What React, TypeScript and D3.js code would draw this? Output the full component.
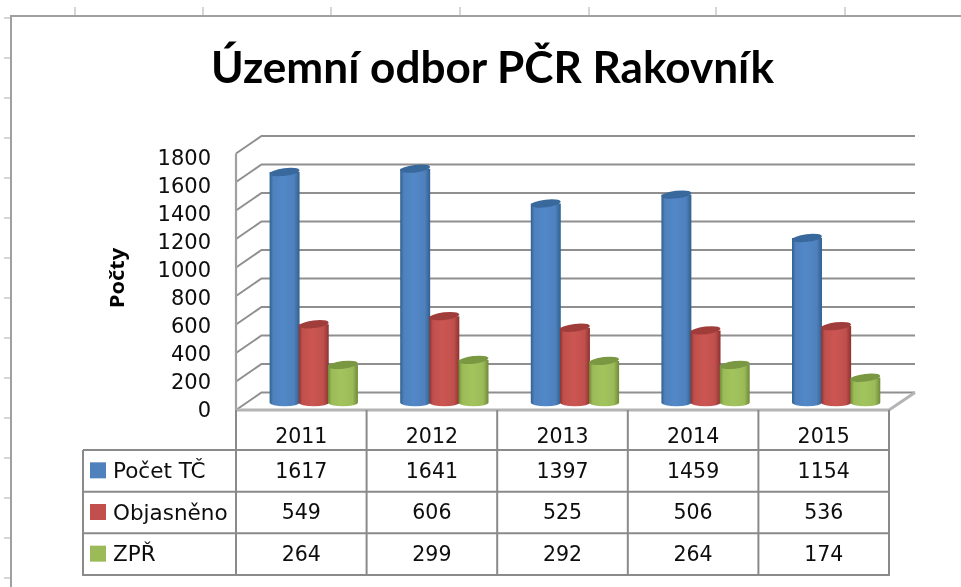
import React from "react";
import * as d3 from "d3";

const years = ["2011", "2012", "2013", "2014", "2015"];
const seriesNames = ["Počet TČ", "Objasněno", "ZPŘ"];
const pocet = [1617, 1641, 1397, 1459, 1154];
const objasneno = [549, 606, 525, 506, 536];
const zpr = [264, 299, 292, 264, 174];
const yTicks = [0, 200, 400, 600, 800, 1000, 1200, 1400, 1600, 1800];
const topMarks = [75, 203, 331, 460, 589, 716, 845];
const leftMarks = [18, 58, 98, 138, 178, 218, 258, 298, 338, 378, 418, 458, 498, 538, 578];
const baseColors = ["#4F81BD", "#C0504D", "#9BBB59"];
const lightColors = ["#5288C8", "#CC5552", "#A2C45C"];
const darkColors = ["#30608F", "#8C3330", "#6F8A38"];
const capColors = ["#37679C", "#A03E3B", "#7A9742"];
const rows = [pocet, objasneno, zpr];

const GRID = "#8f8f8f";
const TABLE = "#8a8a8a";
const FONT = "'DejaVu Sans', sans-serif";
const BOTTOM = 575;

export default function App() {
  const x0 = 236, x1 = 889, dx = 25.5, dy = 17.5;
  const y = d3.scaleLinear().domain([0, 1800]).range([410, 153.5]);
  const yLabel = d3.scaleLinear().domain([0, 1800]).range([409, 157]);
  const xCat = d3.scaleBand<string>().domain(years).range([x0, x1]);
  const xSer = d3.scaleBand<string>().domain(seriesNames).range([34, 121.5]);
  const rowY = d3.scaleBand<string>().domain(seriesNames).range([450, BOTTOM]);
  const barW = xSer.bandwidth();
  const rx = barW / 2 + 0.4, ry = 3.8;
  const baseShift = 7.5;
  const wall = d3.line();

  return (
    <svg width={961} height={587} style={{ position: "absolute", left: 0, top: 0, background: "#fff" }}>
      <defs>
        <filter id="soft" x="-2%" y="-2%" width="104%" height="104%">
          <feGaussianBlur stdDeviation="0.6" />
        </filter>
        {baseColors.map((c, i) => (
          <linearGradient key={c} id={`cyl${i}`} x1="0" x2="1" y1="0" y2="0">
            <stop offset="0" stopColor={darkColors[i]} />
            <stop offset="0.12" stopColor={c} />
            <stop offset="0.45" stopColor={lightColors[i]} />
            <stop offset="0.82" stopColor={c} />
            <stop offset="1" stopColor={darkColors[i]} />
          </linearGradient>
        ))}
      </defs>
      <g filter="url(#soft)">
        {topMarks.map((m) => (
          <line key={m} x1={m} x2={m} y1={7} y2={16} stroke="#c8c8c8" strokeWidth={1.5} />
        ))}
        {leftMarks.map((m) => (
          <line key={m} x1={4} x2={11} y1={m} y2={m} stroke="#c8c8c8" strokeWidth={1.5} />
        ))}
        <path d="M11,587V16H961" fill="none" stroke="#a0a0a0" strokeWidth={2} />

        <text x={492.5} y={83} textAnchor="middle" fontFamily="Lato, sans-serif" fontWeight={700} fontSize={44}
          textLength={563} lengthAdjust="spacingAndGlyphs" fill="#000">
          Územní odbor PČR Rakovník
        </text>

        <text transform="translate(124,278) rotate(-90)" textAnchor="middle" fontFamily="'Noto Sans', sans-serif"
          fontWeight={700} fontSize={19} textLength={60} lengthAdjust="spacingAndGlyphs" fill="#000">
          Počty
        </text>

        {yTicks.map((t) => (
          <path key={t} fill="none" stroke={GRID} strokeWidth={2}
            d={wall([[x0, y(t)], [x0 + dx, y(t) - dy], [x1 + 26, y(t) - dy]]) as string} />
        ))}
        <path d={wall([[x0, y(1800)], [x0, y(0)]]) as string} fill="none" stroke="#a0a0a0" strokeWidth={2.2} />
        <path d={wall([[x0, y(0)], [x1, y(0)], [x1 + 26, y(0) - dy]]) as string} fill="none" stroke="#b4b4b4" strokeWidth={3} />
        {yTicks.map((t) => (
          <text key={t} x={211} y={yLabel(t)} dy="0.36em" textAnchor="end" fontFamily={FONT} fontSize={21} fill="#0c0c0c">
            {t}
          </text>
        ))}

        {years.map((yr, c) =>
          seriesNames.map((s, i) => {
            const left = (xCat(yr) as number) + (xSer(s) as number);
            const cx = left + barW / 2;
            const base = y(0) - baseShift;
            const top = y(rows[i][c]) - baseShift;
            return (
              <g key={s + yr}>
                <path
                  d={`M${cx - rx},${top}L${cx - rx},${base}A${rx},${ry} 0 0 0 ${cx + rx},${base}L${cx + rx},${top}Z`}
                  fill={`url(#cyl${i})`}
                />
                <ellipse cx={cx} cy={top} rx={rx} ry={ry} fill={capColors[i]}
                  transform={`rotate(-7 ${cx} ${top})`} />
              </g>
            );
          })
        )}

        <path d={`M${x0},${y(0)}V${BOTTOM}M83,450H${x1}M83,450V${BOTTOM}H${x1}V${y(0)}`} fill="none" stroke={TABLE} strokeWidth={2} />
        {seriesNames.slice(1).map((s) => (
          <line key={s} x1={83} x2={x1} y1={rowY(s)} y2={rowY(s)} stroke={TABLE} strokeWidth={2} />
        ))}
        {years.slice(1).map((yr) => (
          <line key={yr} x1={xCat(yr)} x2={xCat(yr)} y1={y(0)} y2={BOTTOM} stroke={TABLE} strokeWidth={2} />
        ))}
        {years.map((yr) => (
          <text key={yr} x={(xCat(yr) as number) + xCat.bandwidth() / 2} y={436} dy="0.36em" textAnchor="middle"
            fontFamily={FONT} fontSize={20.5} fill="#0c0c0c">
            {yr}
          </text>
        ))}
        {seriesNames.map((s, i) => {
          const cy = (rowY(s) as number) + rowY.bandwidth() / 2 - 0.5;
          return (
            <g key={s}>
              <rect x={90} y={cy - 8} width={16} height={16} fill={baseColors[i]} />
              <text x={113} y={cy} dy="0.36em" fontFamily={FONT} fontSize={21.5} fill="#0c0c0c">{s}</text>
              {years.map((yr, c) => (
                <text key={yr} x={(xCat(yr) as number) + xCat.bandwidth() / 2} y={cy} dy="0.36em" textAnchor="middle"
                  fontFamily={FONT} fontSize={20.5} fill="#0c0c0c">
                  {rows[i][c]}
                </text>
              ))}
            </g>
          );
        })}
      </g>
    </svg>
  );
}
